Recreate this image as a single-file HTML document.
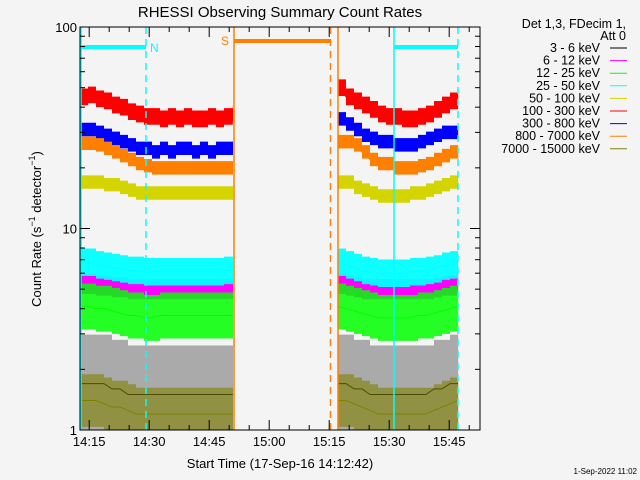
<!DOCTYPE html>
<html><head><meta charset="utf-8"><style>
html,body{margin:0;padding:0;background:#f4f4f4;}
svg{display:block;font-family:"Liberation Sans",sans-serif;}
</style></head><body>
<svg id="chart" width="640" height="480" viewBox="0 0 640 480" xmlns="http://www.w3.org/2000/svg">
<rect width="640" height="480" fill="#f4f4f4"/>
<text x="280" y="17" font-size="15" text-anchor="middle" fill="#000">RHESSI Observing Summary Count Rates</text>
<text transform="translate(41,229) rotate(-90)" font-size="13" text-anchor="middle" fill="#000">Count Rate (s<tspan font-size="9" dy="-6">−1</tspan><tspan dy="6"> detector</tspan><tspan font-size="9" dy="-6">−1</tspan><tspan dy="6">)</tspan></text>
<text x="280" y="468" font-size="13" text-anchor="middle" fill="#000">Start Time (17-Sep-16 14:12:42)</text>
<text x="637" y="474" font-size="8" text-anchor="end" fill="#000">1-Sep-2022 11:02</text>
<g id="series"></g>
<g id="overlays"></g>
<g id="axes"></g>
<g id="legend"></g>
</svg>
<script>
// time in minutes since 14:12:42
const seg1Times = [0,2,4,6,8,10,12,14,16,18,20,22,24,26,28,30,32,34,36,38.2];
const seg2Times = [64.5,66.5,68.5,70.5,72.5,74.5,76.5,78.5,80.5,82.5,84.5,86.5,88.5,90.5,92.5,94.5];
const redSeg1 = [45,46,44,43,41,40,38,37,36,36,35,36,35,36,35,35,36,35,36,37];
const redSeg2 = [50,45,43,41,39,37,36,36,35,35,36,37,39,41,43,44];
const blueSeg1 = [31,31,30,29,28,27,26,25,25,24,25,24,25,25,24,25,24,25,25,25];
const blueSeg2 = [35,33,31,29,28,27,27,26,26,26,27,28,29,30,30,30];
const orangeSeg1 = [26.5,26.5,26,25,24,23,22,21,20.5,20,20,20,20,20,20,20,20,20,20,20];
const orangeSeg2 = [27,27,26,24,22,21,21,20,20,20,20.5,21,22,23,24,24];
const yellowSeg1 = [17,17,17,16.5,16.5,16,15.5,15,15,15,15,15,15,15,15,15,15,15,15,15];
const yellowSeg2 = [17,17,16,15.5,15,14.5,14.5,14.5,14.5,15,15,15.5,16,16.5,17,17];
const cyanSeg1 = [6.8,6.8,6.6,6.5,6.4,6.3,6.2,6.2,6.1,6.1,6.1,6.1,6.1,6.1,6.1,6.1,6.1,6.1,6.2,6.2];
const cyanSeg2 = [6.8,6.6,6.4,6.2,6.1,6.0,6.0,6.0,6.0,6.1,6.1,6.2,6.3,6.5,6.6,6.8];
const magentaSeg1 = [5.3,5.3,5.2,5.2,5.1,5.1,5,5,5,5,5,5,5,5,5,5,5,5,5,5];
const magentaSeg2 = [5.3,5.2,5.1,5,5,5,5,5,5,5,5,5,5.1,5.2,5.2,5.3];
const greenSeg1 = [4.1,4.1,4.0,4.0,3.9,3.8,3.7,3.7,3.6,3.6,3.7,3.7,3.7,3.7,3.7,3.7,3.7,3.7,3.7,3.7];
const greenSeg2 = [4.1,4.0,3.9,3.8,3.7,3.6,3.6,3.6,3.6,3.6,3.7,3.7,3.8,3.9,4.0,4.1];
const blackSeg1 = [1.7,1.7,1.7,1.7,1.6,1.6,1.5,1.5,1.5,1.5,1.5,1.5,1.5,1.5,1.5,1.5,1.5,1.5,1.5,1.5];
const blackSeg2 = [1.7,1.7,1.6,1.6,1.5,1.5,1.5,1.5,1.5,1.5,1.5,1.5,1.6,1.6,1.7,1.7];
const oliveSeg1 = [1.4,1.4,1.4,1.35,1.3,1.3,1.25,1.2,1.2,1.2,1.2,1.2,1.2,1.2,1.2,1.2,1.2,1.2,1.2,1.2];
const oliveSeg2 = [1.4,1.4,1.35,1.3,1.25,1.2,1.2,1.2,1.2,1.2,1.2,1.2,1.25,1.3,1.35,1.4];
const xTickLabels = ["14:15","14:30","14:45","15:00","15:15","15:30","15:45"];
const xTickMinutes = [2.3,17.3,32.3,47.3,62.3,77.3,92.3];
const yTickLabels = ["1","10","100"];
const yTickValues = [1,10,100];
const legendLabels = ["3 - 6 keV","6 - 12 keV","12 - 25 keV","25 - 50 keV","50 - 100 keV","100 - 300 keV","300 - 800 keV","800 - 7000 keV","7000 - 15000 keV"];

const L=80,R=480,T=27,B=430,SPAN=100;
const NS="http://www.w3.org/2000/svg";
function xs(t){return L+(R-L)*t/SPAN;}
function ys(v){return B-(B-T)*Math.log10(v)/2;}
function mk(tag,attrs,parent){const e=document.createElementNS(NS,tag);for(const k in attrs)e.setAttribute(k,attrs[k]);parent.appendChild(e);return e;}

const series=[
 {name:"black",c:"#000000",s1:blackSeg1,s2:blackSeg2,sp:1.75,op:0.3},
 {name:"magenta",c:"#ff00ff",s1:magentaSeg1,s2:magentaSeg2,sp:1.12,op:1},
 {name:"green",c:"#00ff00",s1:greenSeg1,s2:greenSeg2,sp:1.3,op:0.85},
 {name:"cyan",c:"#00ffff",s1:cyanSeg1,s2:cyanSeg2,sp:1.17,op:0.95},
 {name:"yellow",c:"#d4d400",s1:yellowSeg1,s2:yellowSeg2,sp:1.08,op:1},
 {name:"red",c:"#ff0000",s1:redSeg1,s2:redSeg2,sp:1.1,op:1},
 {name:"blue",c:"#0000ff",s1:blueSeg1,s2:blueSeg2,sp:1.08,op:1},
 {name:"orange",c:"#ff8000",s1:orangeSeg1,s2:orangeSeg2,sp:1.08,op:1},
 {name:"olive",c:"#808000",s1:oliveSeg1,s2:oliveSeg2,sp:1.35,op:0.6}
];
const sg=document.getElementById('series');
series.forEach(s=>{
  [[seg1Times,s.s1],[seg2Times,s.s2]].forEach((pair,i)=>{
    const [tt,vv]=pair;
    const n=tt.length;
    const xe=k=>xs(k<n-1?tt[k+1]:tt[k]+0.05);
    let up=[],dn=[];
    for(let k=0;k<n;k++){
      const hi=vv[k]*s.sp;
      up.push(xs(tt[k])+","+ys(hi), xe(k)+","+ys(hi));
    }
    for(let k=n-1;k>=0;k--){
      const lo=Math.max(1,vv[k]/s.sp);
      dn.push(xe(k)+","+ys(lo), xs(tt[k])+","+ys(lo));
    }
    const p=mk('polygon',{points:up.concat(dn).join(' '),fill:s.c,'fill-opacity':s.op},sg);
    
    
    const line=mk('polyline',{points:tt.map((t,k)=>xs(t)+","+ys(vv[k])).join(' '),fill:'none',stroke:s.c,'stroke-width':1},sg);
    
    
  });
});

// overlays
const og=document.getElementById('overlays');
function ol(name,x1,y1,x2,y2,c,w,dash){const e=mk('line',{x1:x1,y1:y1,x2:x2,y2:y2,stroke:c,'stroke-width':w},og);if(dash)e.setAttribute('stroke-dasharray',dash);}
ol('night-start-1',81,T,81,B,'#00ffff',1.5);
ol('night-end-1',146,T,146,B,'#00ffff',1.5,'7,5');
ol('night-bar-1',80,47,146,47,'#00ffff',4);
ol('night-start-2',394,T,394,B,'#00ffff',1.5);
ol('night-end-2',458,T,458,B,'#00ffff',1.5,'7,5');
ol('night-bar-2',394,47,458,47,'#00ffff',4);
ol('saa-start',234,T,234,B,'#ff8000',1.5);
ol('saa-end',330.5,T,330.5,B,'#ff8000',1.5,'7,5');
ol('saa-bar',234,41,330,41,'#ff8000',4);
ol('data-resume',338,T,338,B,'#ff8000',1.5);
function otx(name,x,y,t,c){const e=mk('text',{x:x,y:y,'font-size':12,fill:c},og);e.textContent=t;}
otx('night-label-1',150,52,'N','#00ffff');
otx('saa-label',221,45,'S','#ff8000');

// axes
const ag=document.getElementById('axes');
const fr=mk('rect',{x:L,y:T,width:R-L,height:B-T,fill:'none',stroke:'#000','stroke-width':1},ag);


for(let m=2.3;m<SPAN;m+=5){
  const major=((Math.round((m-2.3)*10)/10)%15)===0;
  const len=major?10:5;
  mk('line',{x1:xs(m),y1:B,x2:xs(m),y2:B-len,stroke:'#000'},ag);
  mk('line',{x1:xs(m),y1:T,x2:xs(m),y2:T+len,stroke:'#000'},ag);
}
xTickLabels.forEach((lab,i)=>{
  const t=mk('text',{x:xs(xTickMinutes[i]),y:B+16,'font-size':13,'text-anchor':'middle',fill:'#000'},ag);
  t.textContent=lab;
  
  
});
for(let d=1;d<=10;d*=10){for(let k=1;k<10;k++){
  const v=d*k, len=k===1?10:5;
  mk('line',{x1:L,y1:ys(v),x2:L+len,y2:ys(v),stroke:'#000'},ag);
  mk('line',{x1:R,y1:ys(v),x2:R-len,y2:ys(v),stroke:'#000'},ag);
}}
yTickLabels.forEach((lab,i)=>{
  const t=mk('text',{x:L-3,y:ys(yTickValues[i])+5,'font-size':13,'text-anchor':'end',fill:'#000'},ag);
  t.textContent=lab;
  
  
});

// legend
const lg=document.getElementById('legend');
const h1=mk('text',{x:626,y:28,'font-size':12.5,'text-anchor':'end',fill:'#000'},lg);
h1.textContent='Det 1,3, FDecim 1,';


const h2=mk('text',{x:626,y:40,'font-size':12.5,'text-anchor':'end',fill:'#000'},lg);
h2.textContent='Att 0';


const legendColors=["#000000","#ff00ff","#00ff00","#00ffff","#d4d400","#ff0000","#0000ff","#ff8000","#808000"];
legendLabels.forEach((lab,i)=>{
  const y=48+i*12.6;
  const t=mk('text',{x:600,y:y+4,'font-size':12.5,'text-anchor':'end',fill:'#000'},lg);
  t.textContent=lab;
  
  
  const l=mk('line',{x1:610,y1:y,x2:627,y2:y,stroke:legendColors[i],'stroke-width':1},lg);
  
  
});
</script>
</body></html>
